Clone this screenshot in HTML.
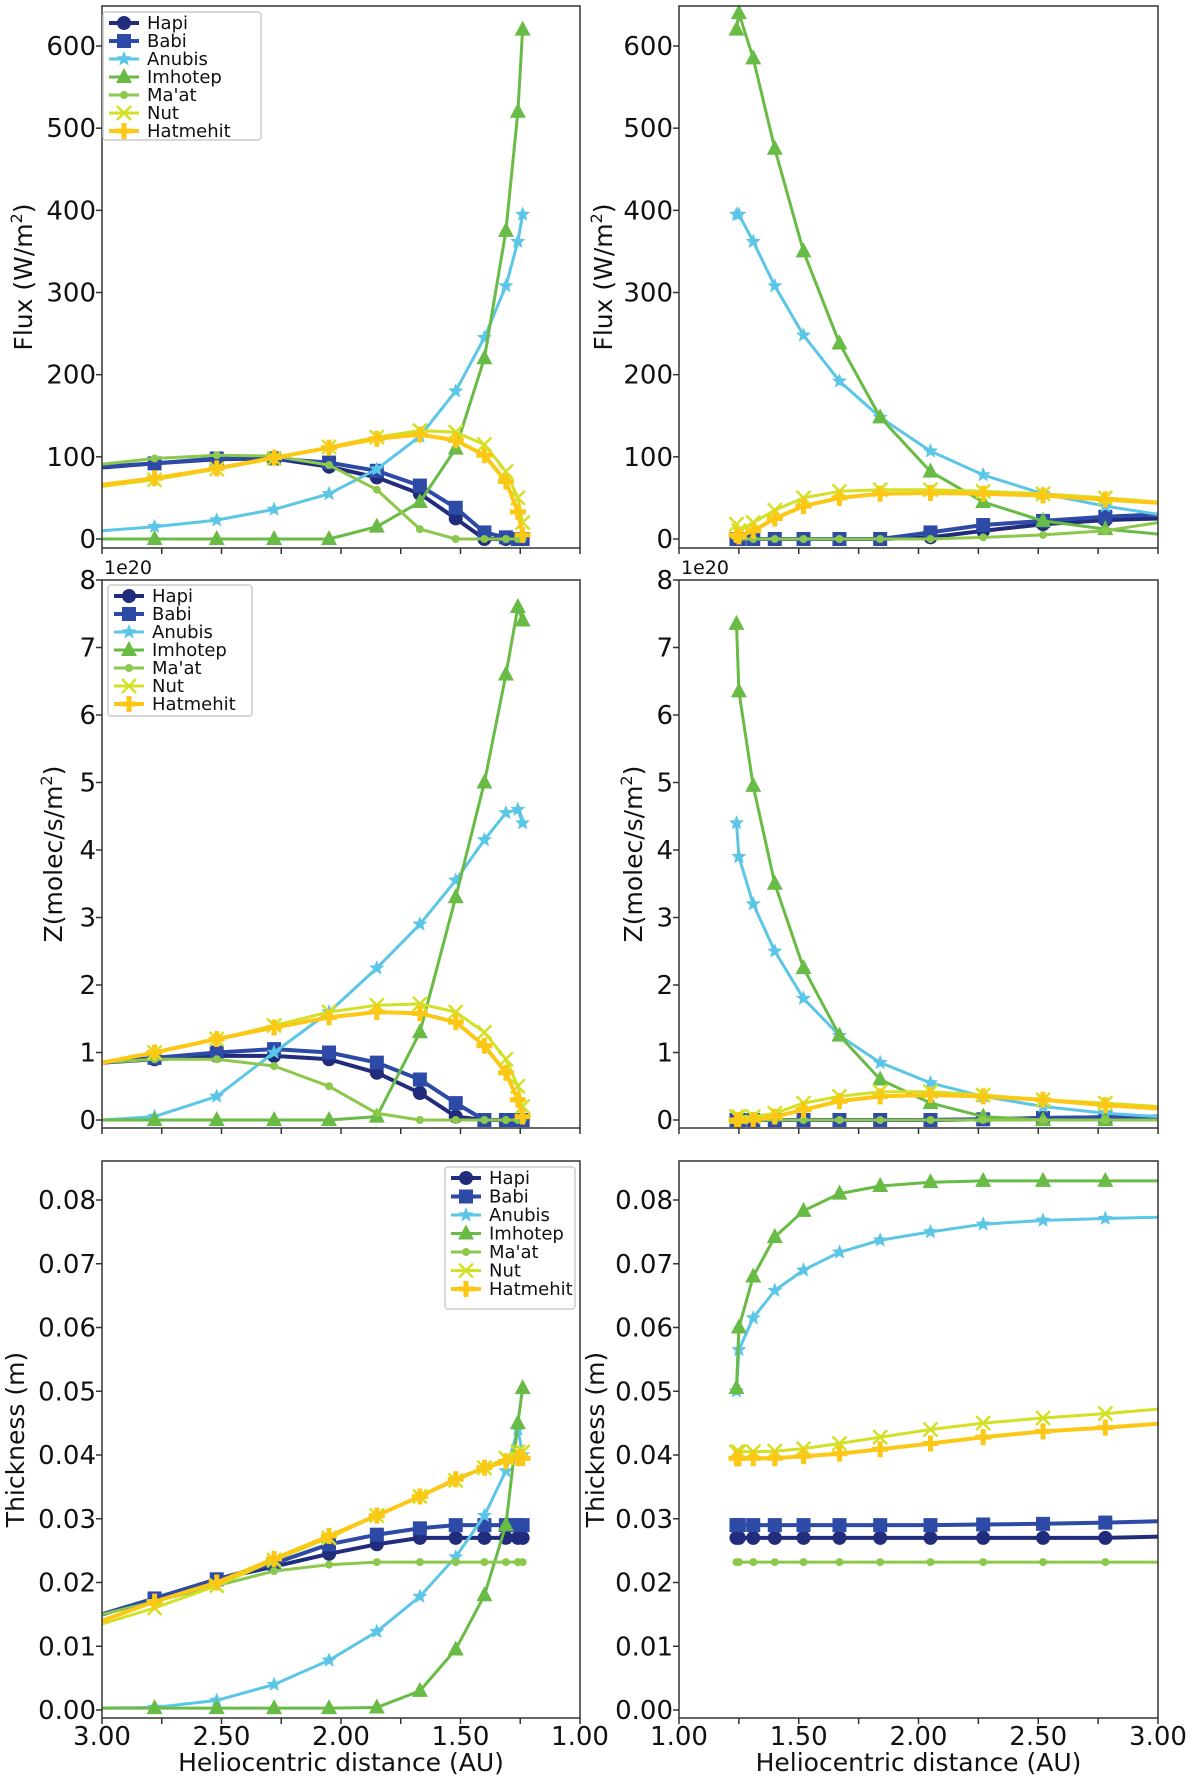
<!DOCTYPE html>
<html><head><meta charset="utf-8">
<style>
html,body{margin:0;padding:0;background:#fff;}
svg{display:block;font-family:"DejaVu Sans","Liberation Sans",sans-serif;}
</style></head>
<body>
<svg id="fig" width="1200" height="1782" viewBox="0 0 1200 1782" xmlns="http://www.w3.org/2000/svg"></svg>
<script>
// ---------- data ----------
const seriesNames = ["Hapi","Babi","Anubis","Imhotep","Ma'at","Nut","Hatmehit"];
const xInbound = [3.0,2.78,2.52,2.28,2.05,1.85,1.67,1.52,1.40,1.31,1.26,1.24];
const xOutbound = [1.24,1.25,1.31,1.40,1.52,1.67,1.84,2.05,2.27,2.52,2.78,3.0];
const xTickLabels = ["3.00","2.50","2.00","1.50","1.00"];

// Flux inbound
const fluxInHapi = [87,92,97,98,88,75,55,25,0,0,0,0];
const fluxInBabi = [88,92,98,98,93,83,65,38,8,2,0,0];
const fluxInAnubis = [10,15,23,36,55,85,125,180,245,308,362,395];
const fluxInImhotep = [0,0,0,0,0,15,45,110,220,375,520,620];
const fluxInMaat = [91,98,102,101,90,60,12,0,0,0,0,0];
const fluxInNut = [64,72,85,98,112,124,132,130,115,82,50,20];
const fluxInHatmehit = [66,74,86,99,111,122,127,120,102,70,33,5];
// Flux outbound
const fluxOutHapi = [0,0,0,0,0,0,0,2,10,18,23,25];
const fluxOutBabi = [0,0,0,0,0,0,0,8,17,22,27,30];
const fluxOutAnubis = [395,395,362,308,248,192,148,107,78,55,40,30];
const fluxOutImhotep = [620,640,585,475,350,238,148,82,45,22,12,6];
const fluxOutMaat = [0,0,0,0,0,0,0,0,2,5,10,20];
const fluxOutNut = [18,10,20,35,50,58,60,60,58,55,50,45];
const fluxOutHatmehit = [5,3,10,25,40,50,55,56,55,53,48,44];
// Z inbound (1e20)
const zInHapi = [0.85,0.9,0.95,0.95,0.9,0.7,0.4,0.05,0,0,0,0];
const zInBabi = [0.85,0.92,1.0,1.05,1.0,0.85,0.6,0.25,0,0,0,0];
const zInAnubis = [0,0.05,0.35,1.0,1.6,2.25,2.9,3.55,4.15,4.55,4.6,4.4];
const zInImhotep = [0,0,0,0,0,0.05,1.3,3.3,5.0,6.6,7.6,7.4];
const zInMaat = [0.85,0.9,0.9,0.8,0.5,0.1,0,0,0,0,0,0];
const zInNut = [0.85,1.0,1.2,1.4,1.6,1.7,1.72,1.6,1.3,0.9,0.5,0.2];
const zInHatmehit = [0.85,1.0,1.2,1.37,1.52,1.6,1.58,1.45,1.1,0.7,0.3,0.05];
// Z outbound
const zOutHapi = [0,0,0,0,0,0,0,0,0.01,0.03,0.04,0.05];
const zOutBabi = [0,0,0,0,0,0,0,0,0.01,0.03,0.04,0.05];
const zOutAnubis = [4.4,3.9,3.2,2.5,1.8,1.25,0.85,0.55,0.35,0.2,0.1,0.05];
const zOutImhotep = [7.35,6.35,4.95,3.5,2.25,1.25,0.6,0.25,0.05,0,0,0];
const zOutMaat = [0,0,0,0,0,0,0,0,0,0,0,0];
const zOutNut = [0.05,0.05,0.05,0.1,0.25,0.35,0.42,0.42,0.37,0.3,0.25,0.2];
const zOutHatmehit = [0,0,0,0.05,0.15,0.28,0.35,0.37,0.35,0.3,0.22,0.17];
// Thickness inbound
const thInHapi = [0.015,0.0175,0.0205,0.0225,0.0245,0.026,0.027,0.027,0.027,0.027,0.027,0.027];
const thInBabi = [0.015,0.0175,0.0205,0.023,0.026,0.0275,0.0285,0.029,0.029,0.029,0.029,0.029];
const thInAnubis = [0.0003,0.0004,0.0015,0.004,0.0078,0.0123,0.0178,0.024,0.0305,0.0375,0.044,0.04];
const thInImhotep = [0.0003,0.0003,0.0003,0.0003,0.0003,0.0004,0.003,0.0095,0.018,0.029,0.045,0.0505];
const thInMaat = [0.015,0.017,0.0195,0.0218,0.0228,0.0232,0.0232,0.0232,0.0232,0.0232,0.0232,0.0232];
const thInNut = [0.0135,0.016,0.0195,0.0235,0.027,0.0305,0.0335,0.036,0.038,0.0395,0.0405,0.0405];
const thInHatmehit = [0.014,0.017,0.020,0.0237,0.0273,0.0305,0.0335,0.0362,0.038,0.039,0.0395,0.0395];
// Thickness outbound
const thOutHapi = [0.027,0.027,0.027,0.027,0.027,0.027,0.027,0.027,0.027,0.027,0.027,0.0272];
const thOutBabi = [0.029,0.029,0.029,0.029,0.029,0.029,0.029,0.029,0.0291,0.0292,0.0294,0.0296];
const thOutAnubis = [0.05,0.0565,0.0615,0.0658,0.069,0.0718,0.0737,0.075,0.0762,0.0768,0.0771,0.0773];
const thOutImhotep = [0.0505,0.06,0.068,0.0742,0.0783,0.081,0.0822,0.0828,0.083,0.083,0.083,0.083];
const thOutMaat = [0.0232,0.0232,0.0232,0.0232,0.0232,0.0232,0.0232,0.0232,0.0232,0.0232,0.0232,0.0232];
const thOutNut = [0.0405,0.0405,0.0405,0.0406,0.041,0.0418,0.0428,0.044,0.045,0.0458,0.0465,0.0472];
const thOutHatmehit = [0.0395,0.0395,0.0395,0.0395,0.0398,0.0402,0.0409,0.0418,0.0428,0.0437,0.0443,0.0449];

const fluxTicks = [0,100,200,300,400,500,600];
const zTicks = [0,1,2,3,4,5,6,7,8];
const thTicks = [0,0.01,0.02,0.03,0.04,0.05,0.06,0.07,0.08];

// ---------- drawing ----------
const NS = "http://www.w3.org/2000/svg";
const svg = document.getElementById('fig');
const colors = ["#222c7c","#2c4aa6","#5cc6e6","#68bb44","#8cc84b","#d3e026","#fdc716"];
const markers = ["circle","square","star","triangle","dot","x","plus"];
const widths = [4,4,3,3,3,3,4];

function mk(tag, attrs, parent){
  const e = document.createElementNS(NS, tag);
  for (const k in attrs) e.setAttribute(k, attrs[k]);
  (parent||svg).appendChild(e);
  return e;
}
function marker(type, x, y, c, g){
  let e;
  if (type==="circle") e = mk('circle',{cx:x,cy:y,r:7,fill:c},g);
  else if (type==="square") e = mk('rect',{x:x-7,y:y-7,width:14,height:14,fill:c},g);
  else if (type==="triangle") e = mk('polygon',{points:`${x},${y-9} ${x+8},${y+6} ${x-8},${y+6}`,fill:c},g);
  else if (type==="dot") e = mk('circle',{cx:x,cy:y,r:4,fill:c},g);
  else if (type==="star"){
    let p=[];for(let i=0;i<10;i++){const r=i%2?3.5:8;const a=-Math.PI/2+i*Math.PI/5;p.push((x+r*Math.cos(a)).toFixed(1)+","+(y+r*Math.sin(a)).toFixed(1));}
    e = mk('polygon',{points:p.join(' '),fill:c},g);
  } else if (type==="x"){
    e = mk('path',{d:`M${x-7},${y-7}L${x+7},${y+7}M${x-7},${y+7}L${x+7},${y-7}`,stroke:c,'stroke-width':2.5,fill:'none'},g);
  } else {
    e = mk('path',{d:`M${x-8},${y}L${x+8},${y}M${x},${y-8}L${x},${y+8}`,stroke:c,'stroke-width':5,fill:'none'},g);
  }
  
  
  return e;
}

function panel(opt){
  const {L,R,T,B,ymin,ymax,yzero,yTop,xs,series,ticks,tickFmt,inbound,showXLabels,ylabel,ylabelX,legend,name,exp} = opt;
  const g = mk('g',{});
  
  
  const X = d => inbound ? L + (3-d)/2*(R-L) : L + (d-1)/2*(R-L);
  const Y = v => yzero - (v-ymin)/(ymax-ymin)*(yzero-yTop);
  // ticks
  ticks.forEach(t=>{
    const y = Y(t);
    mk('line',{x1:L-6,x2:L,y1:y,y2:y,stroke:'#333','stroke-width':1.5},g);
    const tx = mk('text',{x:L-6,y:y+9,'text-anchor':'end','font-size':26,fill:'#111'},g);
    tx.textContent = tickFmt(t);
    
    
  });
  for(let i=0;i<=8;i++){
    const x = L + i*(R-L)/8;
    mk('line',{x1:x,x2:x,y1:B,y2:B+6,stroke:'#333','stroke-width':1.5},g);
  }
  if (showXLabels){
    const labs = inbound ? xTickLabels : xTickLabels.slice().reverse();
    labs.forEach((lab,i)=>{
      const x = L + i*(R-L)/4;
      const tx = mk('text',{x:x,y:B+27,'text-anchor':'middle','font-size':26,fill:'#111'},g);
      tx.textContent = lab;
      
      
    });
    const xl = mk('text',{x:(L+R)/2,y:B+53,'text-anchor':'middle','font-size':25,fill:'#111'},g);
    xl.textContent = "Heliocentric distance (AU)";
    
    
  }
  const yl = mk('text',{x:0,y:0,'text-anchor':'middle','font-size':25,fill:'#111',transform:`translate(${ylabelX},${(T+B)/2}) rotate(-90)`},g);
  yl.innerHTML = ylabel;
  
  
  if (exp){
    const et = mk('text',{x:L+2,y:T-6,'font-size':19,fill:'#111'},g);
    et.textContent = "1e20";
    
    
  }
  // clip
  const cid = 'c'+name;
  const cp = mk('clipPath',{id:cid},g);
  mk('rect',{x:L,y:T-12,width:R-L,height:B-T+22},cp);
  series.forEach((vals,si)=>{
    const sg = mk('g',{'clip-path':`url(#${cid})`},g);
    
    
    const pts = vals.map((v,i)=>X(xs[i]).toFixed(1)+","+Y(v).toFixed(1)).join(' ');
    const pl = mk('polyline',{points:pts,fill:'none',stroke:colors[si],'stroke-width':widths[si],'stroke-linejoin':'round'},sg);
    
    
    vals.forEach((v,i)=>{
      if (xs[i]===3.0) return;
      marker(markers[si], X(xs[i]), Y(v), colors[si], sg);
    });
  });
  const fr = mk('rect',{x:L,y:T,width:R-L,height:B-T,fill:'none',stroke:'#333','stroke-width':1.5},g);
  
  
  if (legend){
    const lg = mk('g',{},g);
    
    
    mk('rect',{x:legend.x,y:legend.y,width:legend.w,height:legend.h,fill:'#fff',stroke:'#ccc','stroke-width':1.5,rx:3},lg);
    seriesNames.forEach((n,i)=>{
      const y = legend.y + 11 + i*legend.dy;
      const eg = mk('g',{},lg);
      
      
      mk('line',{x1:legend.x+6,x2:legend.x+36,y1:y,y2:y,stroke:colors[i],'stroke-width':widths[i]},eg);
      marker(markers[i], legend.x+21, y, colors[i], eg);
      const t = mk('text',{x:legend.x+44,y:y+6,'font-size':legend.fs,fill:'#111'},eg);
      t.textContent = n;
    });
  }
}

const LL=102, LR=580, RL=679, RR=1158;
const ylFlux = 'Flux (W/m<tspan font-size="16" dy="-10">2</tspan><tspan dy="10">)</tspan>';
const ylZ = 'Z(molec/s/m<tspan font-size="16" dy="-10">2</tspan><tspan dy="10">)</tspan>';
const fmtInt = t=>String(t);
const fmt2 = t=>t.toFixed(2);

panel({name:'flux-inbound',L:LL,R:LR,T:6,B:548,ymin:0,ymax:600,yzero:539,yTop:46,xs:xInbound,inbound:true,
  series:[fluxInHapi,fluxInBabi,fluxInAnubis,fluxInImhotep,fluxInMaat,fluxInNut,fluxInHatmehit],
  ticks:fluxTicks,tickFmt:fmtInt,showXLabels:false,ylabel:ylFlux,ylabelX:32,
  legend:{x:103,y:12,w:158,h:128,dy:18,fs:18}});
panel({name:'flux-outbound',L:RL,R:RR,T:6,B:548,ymin:0,ymax:600,yzero:539,yTop:46,xs:xOutbound,inbound:false,
  series:[fluxOutHapi,fluxOutBabi,fluxOutAnubis,fluxOutImhotep,fluxOutMaat,fluxOutNut,fluxOutHatmehit],
  ticks:fluxTicks,tickFmt:fmtInt,showXLabels:false,ylabel:ylFlux,ylabelX:612});
panel({name:'z-inbound',L:LL,R:LR,T:580,B:1128,ymin:0,ymax:8,yzero:1120,yTop:580,xs:xInbound,inbound:true,
  series:[zInHapi,zInBabi,zInAnubis,zInImhotep,zInMaat,zInNut,zInHatmehit],
  ticks:zTicks,tickFmt:fmtInt,showXLabels:false,ylabel:ylZ,ylabelX:62,exp:true,
  legend:{x:108,y:585,w:144,h:131,dy:18,fs:18}});
panel({name:'z-outbound',L:RL,R:RR,T:580,B:1128,ymin:0,ymax:8,yzero:1120,yTop:580,xs:xOutbound,inbound:false,
  series:[zOutHapi,zOutBabi,zOutAnubis,zOutImhotep,zOutMaat,zOutNut,zOutHatmehit],
  ticks:zTicks,tickFmt:fmtInt,showXLabels:false,ylabel:ylZ,ylabelX:642,exp:true});
panel({name:'thickness-inbound',L:LL,R:LR,T:1161,B:1718,ymin:0,ymax:0.08,yzero:1710,yTop:1200,xs:xInbound,inbound:true,
  series:[thInHapi,thInBabi,thInAnubis,thInImhotep,thInMaat,thInNut,thInHatmehit],
  ticks:thTicks,tickFmt:fmt2,showXLabels:true,ylabel:'Thickness (m)',ylabelX:24,
  legend:{x:445,y:1167,w:130,h:142,dy:18.5,fs:18}});
panel({name:'thickness-outbound',L:RL,R:RR,T:1161,B:1718,ymin:0,ymax:0.08,yzero:1710,yTop:1200,xs:xOutbound,inbound:false,
  series:[thOutHapi,thOutBabi,thOutAnubis,thOutImhotep,thOutMaat,thOutNut,thOutHatmehit],
  ticks:thTicks,tickFmt:fmt2,showXLabels:true,ylabel:'Thickness (m)',ylabelX:604});
</script>
</body></html>
